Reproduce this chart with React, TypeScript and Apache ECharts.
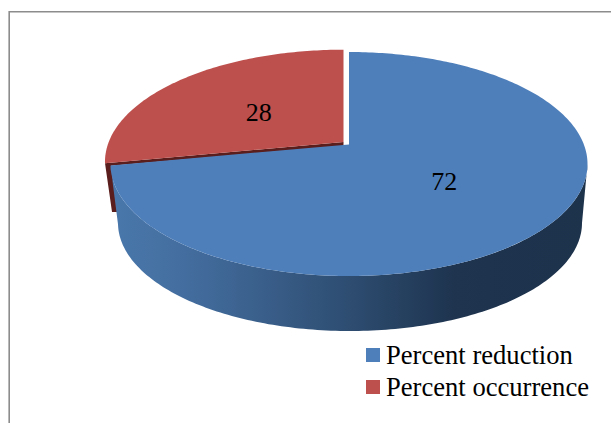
import React, { useEffect, useRef } from "react";
import * as echarts from "echarts";

const sliceNames = ["Percent reduction", "Percent occurrence"];
const sliceValues = [72, 28];
const sliceColors = ["#4e7fbb", "#bd4f4c"];

const WIDTH = 611;
const HEIGHT = 423;
const TILT = -0.175; // how far the pie's apex sits above the ellipse centre
const LID = { cx: 349, cy: 164, rx: 238.5, ry: 112 };
const BASE = { cx: 350, cy: 223, rx: 232, ry: 108 };
const EXPLODE = [
  [0, 0],
  [-5.5, -2.3],
];
const LABEL_NUDGE = [
  [-0.5, 0],
  [1, 3.5],
];
const TAU = Math.PI * 2;
const FONT = "'Liberation Serif', 'Times New Roman', serif";
const total = sliceValues.reduce((a, b) => a + b, 0);

// Perspective map of the unit circle onto an ellipse: the rim stays on the
// ellipse, while the centre moves towards the far side.
function project(e: typeof LID, theta: number, f = 1, dx = 0, dy = 0) {
  const u = f * Math.sin(theta);
  const v = -f * Math.cos(theta);
  const d = 1 + TILT * v;
  const s = Math.sqrt(1 - TILT * TILT);
  return [e.cx + dx + (e.rx * u * s) / d, e.cy + dy + (e.ry * (v + TILT)) / d];
}

function arc(e: typeof LID, from: number, to: number, dx = 0, dy = 0) {
  const n = Math.max(2, Math.ceil(Math.abs(to - from) * 60));
  const pts: number[][] = [];
  for (let i = 0; i <= n; i++) pts.push(project(e, from + ((to - from) * i) / n, 1, dx, dy));
  return pts;
}

function sliceRange(index: number) {
  const before = sliceValues.slice(0, index).reduce((a, b) => a + b, 0);
  return [(before / total) * TAU, ((before + sliceValues[index]) / total) * TAU];
}

function renderSlice(index: number) {
  return (_params: unknown, api: any) => {
    const [start, end] = sliceRange(index);
    const [dx, dy] = EXPLODE[index];
    const apex = project(LID, 0, 0, dx, dy);
    const mid = (start + end) / 2;
    const labelPos = project(LID, mid, 0.5, dx + LABEL_NUDGE[index][0], dy + LABEL_NUDGE[index][1]);
    const children: any[] = [];

    if (index === 0) {
      // Front wall of the large slice, from the ellipse's rightmost point to its cut
      const wallStart = Math.max(start, Math.acos(TILT));
      const wall = [...arc(LID, wallStart, end), ...arc(BASE, end, wallStart)];
      children.push({
        type: "polygon",
        shape: { points: wall },
        style: {
          fill: new echarts.graphic.LinearGradient(
            0,
            0,
            1,
            0,
            [
              { offset: 0, color: "#4a78ac" },
              { offset: 0.2, color: "#416a9a" },
              { offset: 0.48, color: "#2f4f74" },
              { offset: 0.72, color: "#1e344f" },
              { offset: 1, color: "#1d324b" },
            ],
            false
          ),
        },
      });
    } else {
      // Dark cut face of the pulled-out slice, seen along its near edge
      const tip = project(LID, start, 1, dx, dy);
      const foot = project(BASE, start, 1, dx, dy);
      const faceColor = "#5a1e1d";
      children.push({
        type: "polygon",
        shape: {
          points: [
            apex,
            tip,
            [foot[0] - 0.5, foot[1] - 10],
            [foot[0] + 5, foot[1] - 10],
            [tip[0] + 6, tip[1] + 2.5],
            [apex[0], apex[1] + 4],
          ],
        },
        style: { fill: faceColor },
      });
    }

    children.push({
      type: "polygon",
      shape: { points: [apex, ...arc(LID, start, end, dx, dy)] },
      style: { fill: sliceColors[index] },
    });
    children.push({
      type: "text",
      x: labelPos[0],
      y: labelPos[1],
      style: {
        text: String(api.value(0)),
        fill: "#000000",
        font: `26px ${FONT}`,
        align: "center",
        verticalAlign: "middle",
      },
    });
    return { type: "group", children };
  };
}

export default function App() {
  const ref = useRef<HTMLDivElement>(null);

  useEffect(() => {
    if (!ref.current) return;
    const chart = echarts.init(ref.current, undefined, { renderer: "svg" });
    chart.setOption({
      animation: false,
      backgroundColor: "#ffffff",
      legend: {
        orient: "vertical",
        left: 366,
        top: 339,
        itemWidth: 14,
        itemHeight: 14,
        itemGap: 0,
        padding: 0,
        icon: "rect",
        selectedMode: false,
        data: sliceNames,
        textStyle: {
          fontFamily: FONT,
          fontSize: 26.6,
          color: "#000000",
          lineHeight: 29,
          padding: [3, 0, 0, 1],
        },
      },
      graphic: [
        {
          type: "polyline",
          silent: true,
          shape: {
            points: [
              [WIDTH, 11.7],
              [9.2, 11.7],
              [9.2, HEIGHT],
            ],
          },
          style: { stroke: "#8c8c8c", lineWidth: 1.6, fill: "none" },
        },
      ],
      // Later slices are painted first so the large slice overlaps their cut face
      series: sliceNames
        .map((name, i) => ({
          type: "custom",
          name,
          coordinateSystem: "none",
          silent: true,
          itemStyle: { color: sliceColors[i] },
          data: [sliceValues[i]],
          renderItem: renderSlice(i),
          z: 2 - i,
        }))
        .reverse(),
    });
    return () => chart.dispose();
  }, []);

  return (
    <div
      ref={ref}
      style={{ position: "fixed", left: 0, top: 0, width: WIDTH, height: HEIGHT }}
    />
  );
}
